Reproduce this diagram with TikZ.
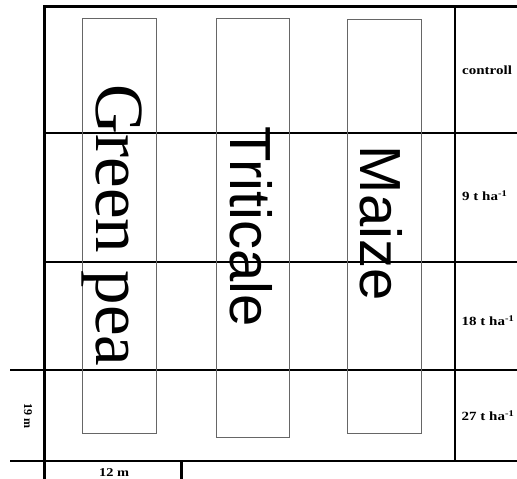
\documentclass[tikz,border=0pt]{standalone}
\usepackage{fontspec}
\setmainfont{Liberation Serif}
\newfontfamily\cropserif{Liberation Serif}
\newfontfamily\cropsans{Liberation Sans}
\usepackage{graphicx}
\definecolor{stripe}{HTML}{666666}
\tikzset{
  fieldline/.style={draw=black, line width=2.2pt},
  strip/.style={draw=stripe, line width=1pt},
  croplabel/.style={rotate=-90, anchor=base west, inner sep=0pt},
  dose/.style={anchor=base west, inner sep=0pt, font=\cropserif\bfseries\fontsize{12.5}{13}\selectfont},
  size/.style={anchor=base west, inner sep=0pt, font=\cropserif\bfseries\fontsize{12}{13}\selectfont}
}
\newcommand{\wide}[1]{\scalebox{1.2}[1]{#1}}

\begin{document}
\begin{tikzpicture}[x=1pt,y=-1pt]
  \clip (0,0) rectangle (517,479);
  \fill[white] (0,0) rectangle (517,479);
  % plot grid
  \draw[fieldline] (44.5,479) -- (44.5,6.5) -- (517,6.5);
  \draw[fieldline] (455,6.5) -- (455,462);
  \foreach \y in {133,262} {
    \draw[fieldline] (44.5,\y) -- (517,\y);
  }
  \foreach \y in {370,461} {
    \draw[fieldline] (10,\y) -- (517,\y);
  }
  \draw[fieldline] (181.5,461) -- (181.5,479);
  % crop strips
  \draw[strip] (82,18.5) rectangle (156,433);
  \draw[strip] (216,18.5) rectangle (289,437.5);
  \draw[strip] (347,19.5) rectangle (421,433);
  \node[croplabel, font=\cropserif\fontsize{69}{69}\selectfont] (pea) at (96,84.5) {Green pea};
  \node[croplabel, font=\cropsans\fontsize{58}{58}\selectfont] (triticale) at (230,126) {Triticale};
  \node[croplabel, font=\cropsans\fontsize{58}{58}\selectfont] (maize) at (360,145.5) {Maize};
  % doses
  \node[dose] (d0) at (462,74.5) {\wide{controll}};
  \node[dose] (d9) at (462,200.5) {\wide{9 t ha\textsuperscript{-1}}};
  \node[dose] (d18) at (461.5,325.5) {\wide{18 t ha\textsuperscript{-1}}};
  \node[dose] (d27) at (461.5,420.5) {\wide{27 t ha\textsuperscript{-1}}};
  % plot size
  \node[size] (len) at (99,476) {\wide{12 m}};
  \node[size, rotate=-90] (wid) at (24,403) {19 m};
\end{tikzpicture}
\end{document}
